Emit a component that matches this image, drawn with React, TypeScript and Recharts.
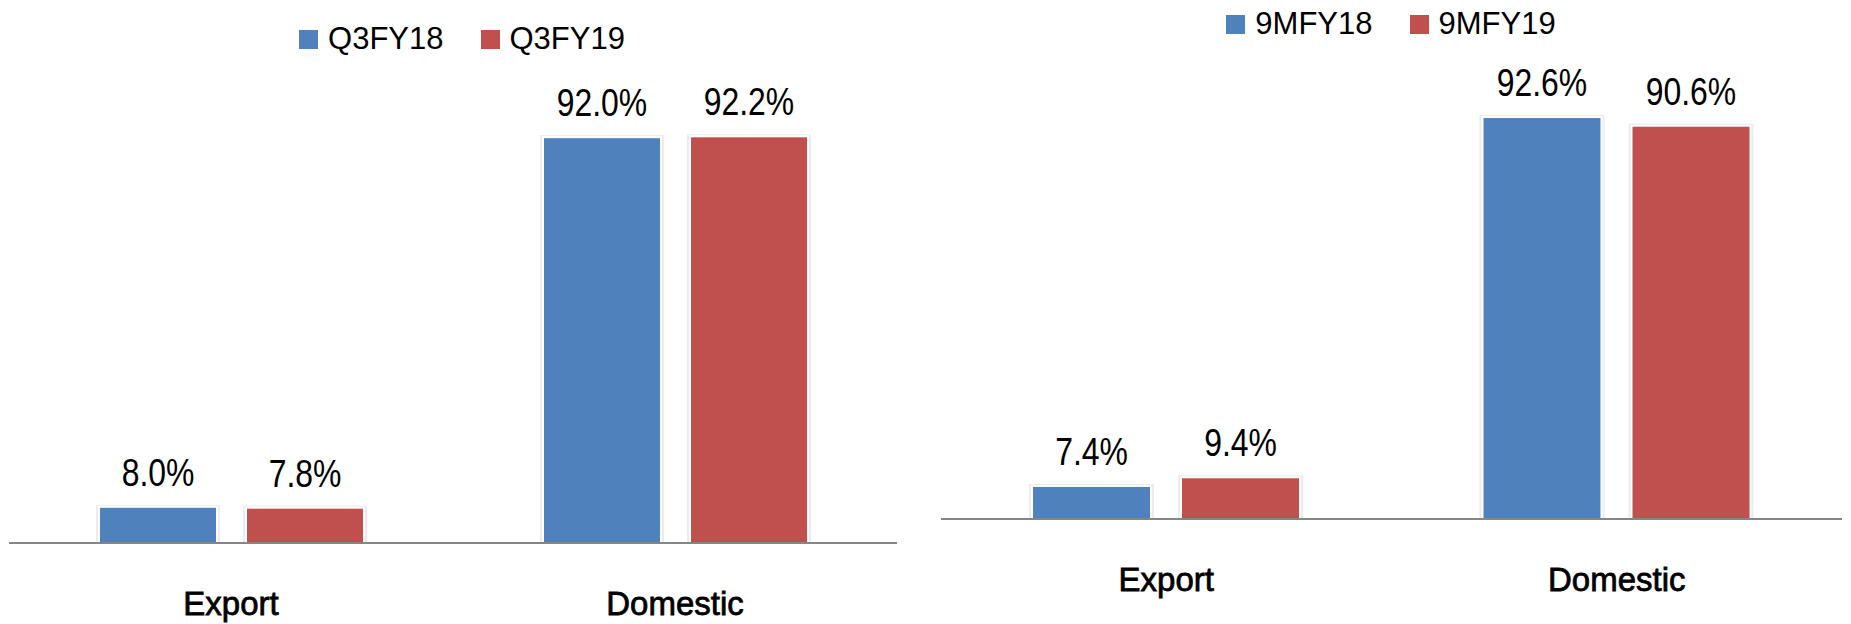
import { BarChart, Bar, XAxis, YAxis, Legend, LabelList } from "recharts";

const categories = ["Export", "Domestic"];
const leftNames = ["Q3FY18", "Q3FY19"];
const q3fy18 = [8.0, 92.0];
const q3fy19 = [7.8, 92.2];
const rightNames = ["9MFY18", "9MFY19"];
const m9fy18 = [7.4, 92.6];
const m9fy19 = [9.4, 90.6];

const BLUE = "#4F81BD";
const RED = "#C0504D";
const colors = [BLUE, RED];

const leftData = categories.map((name, i) => ({ name, a: q3fy18[i], b: q3fy19[i] }));
const rightData = categories.map((name, i) => ({ name, a: m9fy18[i], b: m9fy19[i] }));

const textFont = '"Liberation Sans", Arial, sans-serif';

const LEGEND_H = 40;

function BarShape(props: any) {
  const { x, y, width, height, fill } = props;
  if (height <= 0) return null;
  return (
    <g>
      <rect x={x - 4} y={y - 3} width={width + 8} height={height + 3} fill="#ececec" />
      <rect x={x - 2} y={y - 2} width={width + 4} height={height + 2} fill="#fff" />
      <rect x={x} y={y} width={width} height={height} fill={fill} />
    </g>
  );
}

// condensed look: regular face squeezed horizontally
function ValueLabel(props: any) {
  const { x, y, width, value } = props;
  const cx = x + width / 2;
  return (
    <text
      transform={`translate(${cx},${y - 22}) scale(0.84,1)`}
      textAnchor="middle"
      fill="#000"
      fontSize={38}
      fontFamily={textFont}
    >
      {`${Number(value).toFixed(1)}%`}
    </text>
  );
}

function CategoryTick(props: any) {
  const { x, y, payload } = props;
  return (
    <text
      transform={`translate(${x},${y + 72}) scale(0.97,1)`}
      textAnchor="middle"
      fill="#000"
      stroke="#000"
      strokeWidth={0.8}
      fontSize={34}
      fontFamily={textFont}
    >
      {payload.value}
    </text>
  );
}

function makeLegend(names: string[], shift: number) {
  return () => (
    <div
      style={{
        display: "flex",
        justifyContent: "center",
        alignItems: "center",
        height: LEGEND_H,
        paddingLeft: shift,
        fontFamily: textFont,
        fontSize: 31,
        color: "#000",
      }}
    >
      {names.map((n, i) => (
        <div key={n} style={{ display: "flex", alignItems: "center", marginRight: i === 0 ? 37 : 0 }}>
          <span style={{ width: 19, height: 19, background: colors[i], marginRight: 10 }} />
          <span>{n}</span>
        </div>
      ))}
    </div>
  );
}

interface PanelProps {
  data: { name: string; a: number; b: number }[];
  names: string[];
  width: number;
  margin: { top: number; right: number; bottom: number; left: number };
  legendTop: number;
  legendShift: number;
  barSize: number;
  barGap: number;
}

function Panel({ data, names, width, margin, legendTop, legendShift, barSize, barGap }: PanelProps) {
  return (
    <BarChart width={width} height={624} data={data} margin={margin} barSize={barSize} barGap={barGap}>
      <Legend
        verticalAlign="top"
        content={makeLegend(names, legendShift)}
        wrapperStyle={{ top: legendTop, left: 0, width: width, height: LEGEND_H }}
      />
      <XAxis
        dataKey="name"
        height={60}
        tickLine={false}
        tickSize={0}
        tickMargin={0}
        axisLine={{ stroke: "#868686", strokeWidth: 2 }}
        tick={<CategoryTick />}
        interval={0}
      />
      <YAxis hide domain={[0, 100]} />
      <Bar dataKey="a" name={names[0]} fill={BLUE} shape={<BarShape />} isAnimationActive={false}>
        <LabelList dataKey="a" content={<ValueLabel />} />
      </Bar>
      <Bar dataKey="b" name={names[1]} fill={RED} shape={<BarShape />} isAnimationActive={false}>
        <LabelList dataKey="b" content={<ValueLabel />} />
      </Bar>
    </BarChart>
  );
}

export default function App() {
  return (
    <div style={{ position: "absolute", left: 0, top: 0, width: 1851, height: 624, background: "#fff" }}>
      <div style={{ position: "absolute", left: 0, top: 0 }}>
        <Panel
          data={leftData}
          names={leftNames}
          width={900}
          margin={{ top: 103 - LEGEND_H, right: 3, bottom: 21, left: 9 }}
          legendTop={19}
          legendShift={24}
          barSize={116}
          barGap={31}
        />
      </div>
      <div style={{ position: "absolute", left: 921, top: 0 }}>
        <Panel
          data={rightData}
          names={rightNames}
          width={930}
          margin={{ top: 86 - LEGEND_H, right: 9, bottom: 45, left: 20 }}
          legendTop={4}
          legendShift={10}
          barSize={117}
          barGap={32}
        />
      </div>
    </div>
  );
}
